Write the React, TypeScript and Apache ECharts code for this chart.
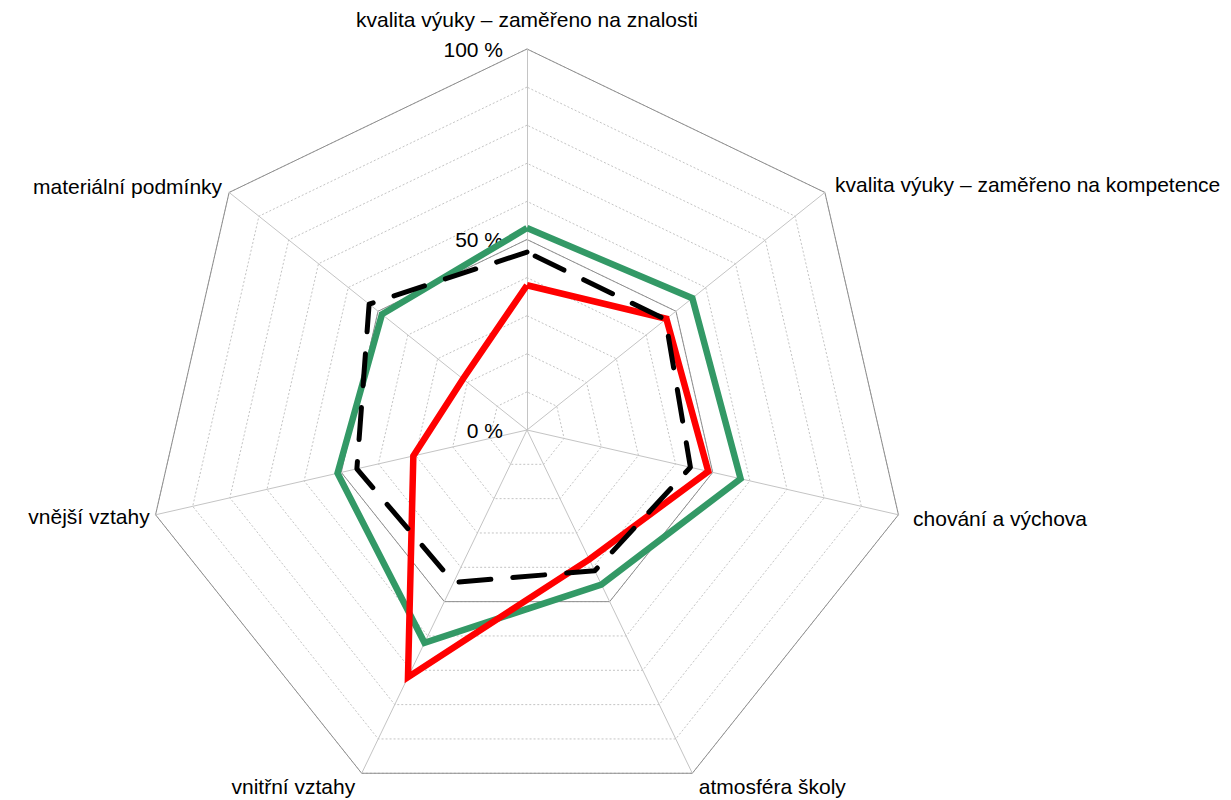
import React, { useEffect, useRef } from "react";
import * as echarts from "echarts";

// Categories clockwise from the top
const categories: string[] = [
  "kvalita výuky – zaměřeno na znalosti",
  "kvalita výuky – zaměřeno na kompetence",
  "chování a výchova",
  "atmosféra školy",
  "vnitřní vztahy",
  "vnější vztahy",
  "materiální podmínky",
];

const greenValues: number[] = [53, 55.5, 57.5, 45, 62, 51, 48.7];
const redValues: number[] = [38, 46.8, 48.8, 37.7, 72, 30.6, 21.5];
const blackValues: number[] = [46.7, 46.5, 44, 41, 44.4, 45.8, 53];

const tickLabels: number[] = [0, 50, 100];

// Gap between the polygon's corner and each category name (clockwise order)
const nameGaps: number[] = [19, 13, 15, 15, 15, 6, 9];

// ECharts radar places indicators counter-clockwise; reorder to go clockwise.
const order = [0, 6, 5, 4, 3, 2, 1];
const reorder = <T,>(arr: T[]): T[] => order.map((i) => arr[i]);

const FONT = "'Liberation Sans', Arial, sans-serif";

export default function App() {
  const ref = useRef<HTMLDivElement>(null);

  useEffect(() => {
    if (!ref.current) return;
    const chart = echarts.init(ref.current, undefined, { renderer: "svg" });
    const cats = reorder(categories);
    const gaps = reorder(nameGaps);

    const indicatorMain = cats.map((name, i) => {
      const ind: any = { name, min: 0, max: 100, nameGap: gaps[i] };
      if (i === 0) {
        ind.axisLabel = {
          show: true,
          margin: 24,
          fontSize: 21,
          color: "#000",
          fontFamily: FONT,
          formatter: (v: number) => (tickLabels.indexOf(Math.round(v)) >= 0 ? `${Math.round(v)} %` : ""),
        };
      }
      return ind;
    });

    const indicatorMajor = cats.map(() => ({ name: "", min: 0, max: 100 }));

    const option: any = {
      animation: false,
      backgroundColor: "#ffffff",
      radar: [
        {
          center: [527, 430],
          radius: 381,
          startAngle: 90,
          shape: "polygon",
          splitNumber: 10,
          indicator: indicatorMain,
          nameGap: 15,
          axisName: {
            color: "#000",
            fontSize: 21,
            fontFamily: FONT,
          },
          axisLine: { show: true, lineStyle: { color: "#c4c4c4", width: 1 } },
          axisTick: { show: false },
          axisLabel: { show: false },
          splitLine: { show: true, lineStyle: { color: "#c4c4c4", width: 1, type: [2, 2] } },
          splitArea: { show: false },
        },
        {
          center: [527, 430],
          radius: 381,
          startAngle: 90,
          shape: "polygon",
          splitNumber: 2,
          indicator: indicatorMajor,
          axisName: { show: false },
          axisLine: { show: false },
          axisTick: { show: false },
          axisLabel: { show: false },
          splitLine: { show: true, lineStyle: { color: "#8f8f8f", width: 1, type: "solid" } },
          splitArea: { show: false },
        },
      ],
      series: [
        {
          type: "radar",
          radarIndex: 0,
          symbol: "none",
          silent: true,
          z: 3,
          lineStyle: { color: "#339966", width: 6.5, join: "miter" },
          data: [{ value: reorder(greenValues), name: "green" }],
        },
        {
          type: "radar",
          radarIndex: 0,
          symbol: "none",
          silent: true,
          z: 4,
          lineStyle: { color: "#ff0000", width: 6.5, join: "miter" },
          data: [{ value: reorder(redValues), name: "red" }],
        },
        {
          type: "radar",
          radarIndex: 0,
          symbol: "none",
          silent: true,
          z: 5,
          lineStyle: { color: "#000000", width: 5, type: [32, 22], cap: "round" },
          data: [{ value: reorder(blackValues), name: "black" }],
        },
      ],
    };

    chart.setOption(option);
    return () => chart.dispose();
  }, []);

  return (
    <div
      ref={ref}
      style={{ position: "fixed", left: 0, top: 0, width: 1231, height: 800, background: "#fff" }}
    />
  );
}
